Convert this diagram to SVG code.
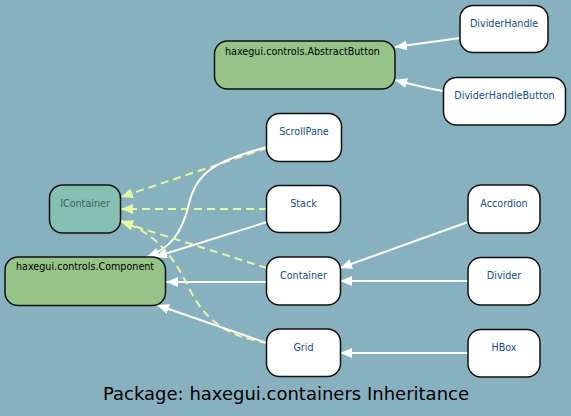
<svg xmlns="http://www.w3.org/2000/svg" width="571" height="416" viewBox="0 0 571 416">
<defs>
<marker id="aw" markerUnits="userSpaceOnUse" markerWidth="14" markerHeight="12" refX="12" refY="5" orient="auto">
<path d="M0,0 L12,5 L0,10 Z" fill="#ffffff"/>
</marker>
<marker id="ay" markerUnits="userSpaceOnUse" markerWidth="14" markerHeight="12" refX="12" refY="5" orient="auto">
<path d="M0,0 L12,5 L0,10 Z" fill="#e6f7a3"/>
</marker>
</defs>
<style>
.n rect{fill:#ffffff;stroke:#111111;stroke-width:1.5}
.n text{font-family:"DejaVu Sans",sans-serif;font-size:9.6px;fill:#104e8b;text-anchor:middle}
.g rect{fill:#96c387}
.g text{fill:#000000;text-anchor:start}
.i rect{fill:#86c0b2}
.i text{fill:#3f6060}
.s{fill:none;stroke:#ffffff;stroke-width:2;marker-end:url(#aw)}
.d{fill:none;stroke:#e6f7a3;stroke-width:2;stroke-dasharray:8,5;marker-end:url(#ay)}
</style>
<rect width="571" height="416" fill="#88b1c0"/>
<g id="edges">
<path class="s" d="M460,38 L395,47"/>
<path class="s" d="M443,91 C425,88 410,84 395,80"/>
<path class="d" d="M267,148 L121,197"/>
<path class="s" d="M267,147 C220,160 198,170 190,200 C182,235 170,248 147,257"/>
<path class="d" d="M267,209 L121,209"/>
<path class="s" d="M267,222 L155,257"/>
<path class="d" d="M267,268 L121,222"/>
<path class="s" d="M267,282 L166,282"/>
<path class="d" d="M267,343 C240,338 210,330 190,290 C175,260 160,235 121,221"/>
<path class="s" d="M267,343 L157,305"/>
<path class="s" d="M468,222 L340,268"/>
<path class="s" d="M468,281 L340,281"/>
<path class="s" d="M468,353 L340,353"/>
</g>
<g id="AbstractButton" class="n g"><rect x="214.5" y="41" width="180.5" height="48" rx="13"/><text x="225" y="55">haxegui.controls.AbstractButton</text></g>
<g id="DividerHandle" class="n"><rect x="460" y="5.5" width="88" height="47" rx="13"/><text x="504" y="27">DividerHandle</text></g>
<g id="DividerHandleButton" class="n"><rect x="443.5" y="77.5" width="122" height="47.5" rx="13"/><text x="504.5" y="99">DividerHandleButton</text></g>
<g id="ScrollPane" class="n"><rect x="266.5" y="113.5" width="75" height="48" rx="13"/><text x="304" y="135">ScrollPane</text></g>
<g id="IContainer" class="n i"><rect x="49.5" y="185" width="71" height="48" rx="13"/><text x="85" y="207">IContainer</text></g>
<g id="Stack" class="n"><rect x="266.5" y="185.5" width="74" height="47" rx="13"/><text x="303.5" y="207">Stack</text></g>
<g id="Component" class="n g"><rect x="5" y="257" width="160.5" height="48.5" rx="13"/><text x="16" y="270">haxegui.controls.Component</text></g>
<g id="Container" class="n"><rect x="266.5" y="257" width="74" height="48" rx="13"/><text x="303.5" y="279">Container</text></g>
<g id="Grid" class="n"><rect x="266.5" y="329" width="74" height="47.5" rx="13"/><text x="303.5" y="351">Grid</text></g>
<g id="Accordion" class="n"><rect x="468" y="185" width="72" height="48" rx="13"/><text x="504" y="207">Accordion</text></g>
<g id="Divider" class="n"><rect x="468" y="257.5" width="72" height="47.5" rx="13"/><text x="504" y="279">Divider</text></g>
<g id="HBox" class="n"><rect x="468" y="329.5" width="72" height="47.5" rx="13"/><text x="504" y="351">HBox</text></g>
<text x="286" y="400" font-family="DejaVu Sans,sans-serif" font-size="18" fill="#000000" text-anchor="middle">Package: haxegui.containers Inheritance</text>
</svg>
